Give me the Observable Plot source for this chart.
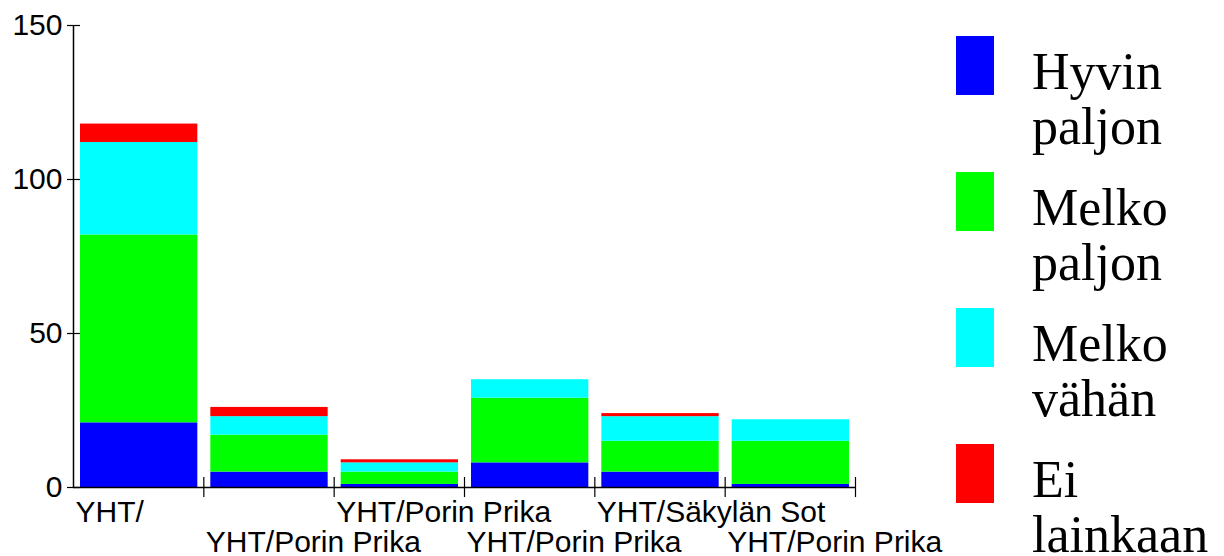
<!DOCTYPE html>
<html>
<head>
<meta charset="utf-8">
<script src="https://cdn.jsdelivr.net/npm/d3@7"></script>
<script src="https://cdn.jsdelivr.net/npm/@observablehq/plot@0.6"></script>
<style>
  html, body { margin: 0; padding: 0; background: #fff; }
  #wrap { position: relative; width: 1224px; height: 556px; overflow: hidden; }
  #legend { position: absolute; left: 0; top: 0; pointer-events: none; }
</style>
</head>
<body>
<div id="wrap"></div>
<script>
// Categories (x-axis labels, in order)
const categories = ["YHT/", "YHT/Porin Prika", "YHT/Porin Prika", "YHT/Porin Prika", "YHT/Säkylän Sot", "YHT/Porin Prika"];
// Series names (legend) and colours
const seriesNames = ["Hyvin paljon", "Melko paljon", "Melko vähän", "Ei lainkaan"];
const seriesColors = ["#0000ff", "#00ff00", "#00ffff", "#ff0000"];
// Series values per category
const hyvinPaljon = [21, 5, 1, 8, 5, 1];
const melkoPaljon = [61, 12, 4, 21, 10, 14];
const melkoVahan  = [30, 6, 3, 6, 8, 7];
const eiLainkaan  = [6, 3, 1, 0, 1, 0];
// Y-axis ticks
const yTicks = [0, 50, 100, 150];

const seriesValues = [hyvinPaljon, melkoPaljon, melkoVahan, eiLainkaan];

// Build stacked table
const rows = [];
categories.forEach((c, i) => {
  let acc = 0;
  seriesNames.forEach((s, k) => {
    const v = seriesValues[k][i];
    rows.push({i, x1: i, x2: i + 1, y1: acc, y2: acc + v, series: s});
    acc += v;
  });
});
const labels = categories.map((c, i) => ({i, text: c}));
const boundaries = categories.map((c, i) => i + 1);

const plot = Plot.plot({
  width: 1224,
  height: 556,
  marginLeft: 73,
  marginRight: 369,
  marginTop: 25,
  marginBottom: 69,
  style: {fontFamily: "'Liberation Sans', Arial, sans-serif", fontSize: "30px", color: "#000", background: "#fff"},
  x: {domain: [0, categories.length], axis: null},
  y: {domain: [0, 150], axis: null},
  color: {domain: seriesNames, range: seriesColors},
  marks: [
    Plot.rect(rows.filter(d => d.y2 > d.y1), {x1: "x1", x2: "x2", y1: "y1", y2: "y2", fill: "series", insetLeft: 7, insetRight: 6}),
    Plot.ruleX([0], {stroke: "#000", strokeWidth: 1.5}),
    Plot.ruleY([0], {stroke: "#000", strokeWidth: 1.5}),
    Plot.axisY({ticks: yTicks, tickSize: 13, dx: 7, tickFormat: () => "", strokeWidth: 1.2}),
    Plot.axisY({ticks: yTicks, tickSize: 0, tickPadding: 11, fontSize: 30, fill: "#000"}),
    Plot.axisX({ticks: boundaries, tickSize: 20, dy: -10, tickFormat: () => "", strokeWidth: 1.2}),
    Plot.text(labels.filter(d => d.i % 2 === 0), {x: "i", y: 0, text: "text", textAnchor: "start", lineAnchor: "middle", dx: 2, dy: 25, fontSize: 30, fill: "#000"}),
    Plot.text(labels.filter(d => d.i % 2 === 1), {x: "i", y: 0, text: "text", textAnchor: "start", lineAnchor: "middle", dx: 2, dy: 55, fontSize: 30, fill: "#000"})
  ]
});
document.getElementById("wrap").appendChild(plot);

// Legend (right side)
const legend = d3.select("#wrap").append("svg")
  .attr("id", "legend")
  .attr("width", 1224).attr("height", 556);
const swTop = 36, step = 136;
seriesNames.forEach((s, k) => {
  const g = legend.append("g").attr("transform", `translate(956,${swTop + k * step})`);
  g.append("rect").attr("width", 38).attr("height", 59).attr("fill", seriesColors[k]);
  const words = s.split(" ");
  words.forEach((w, j) => {
    g.append("text")
      .attr("x", 76).attr("y", 53 + j * 55)
      .attr("font-family", "'Liberation Serif', 'Times New Roman', serif")
      .attr("font-size", 52)
      .attr("fill", "#000")
      .text(w);
  });
});
</script>
</body>
</html>
